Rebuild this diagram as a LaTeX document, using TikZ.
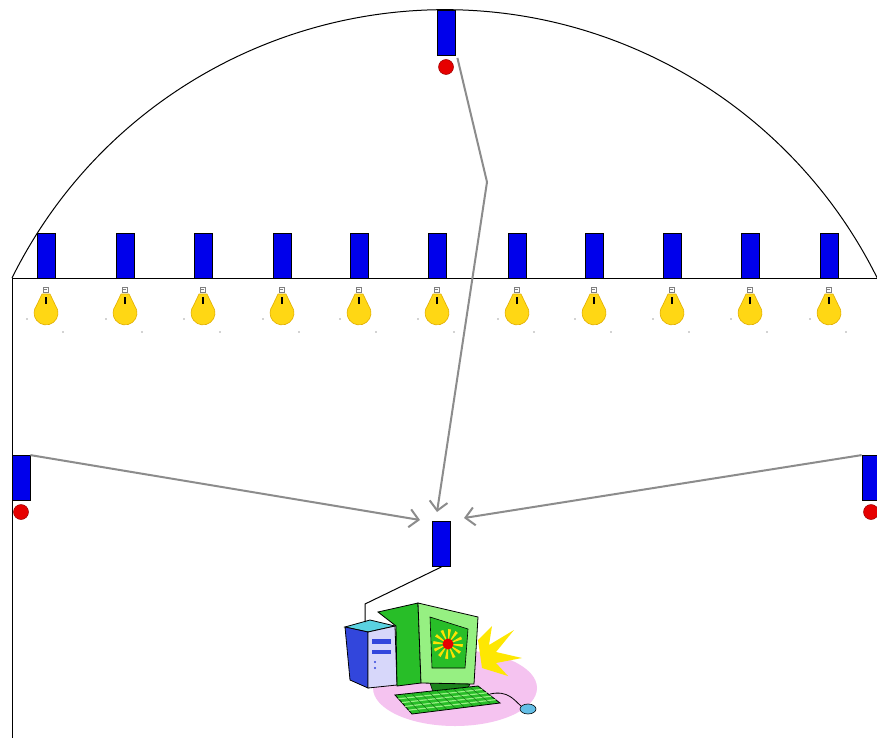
\documentclass[tikz,border=0pt]{standalone}
\usetikzlibrary{arrows.meta,calc}
\definecolor{sensorblue}{RGB}{0,0,235}
\definecolor{dotred}{RGB}{230,0,0}
\definecolor{bulbyellow}{RGB}{255,215,20}
\definecolor{bulbedge}{RGB}{225,175,0}
\definecolor{wiregrey}{RGB}{140,140,140}
\definecolor{pcgreen}{RGB}{40,190,40}
\definecolor{pclight}{RGB}{150,240,130}
\definecolor{pcpink}{RGB}{245,195,240}
\definecolor{towerblue}{RGB}{50,70,220}
\definecolor{towerfront}{RGB}{215,215,250}
\definecolor{towertop}{RGB}{90,210,225}
\definecolor{mouseblue}{RGB}{100,190,230}
\tikzset{
  sensor/.style={rectangle, fill=sensorblue, draw=black, line width=0.8pt,
    minimum width=18pt, minimum height=45pt, inner sep=0pt},
  reddot/.style={circle, fill=dotred, draw=red!60!black, line width=0.5pt,
    minimum size=15pt, inner sep=0pt},
  wall/.style={draw=black, line width=1pt},
  signal/.style={draw=wiregrey, line width=2pt,
    -{Straight Barb[length=9pt,width=18pt,line width=2pt]}},
  bulb/.pic={
    \draw[gray, line width=0.6pt] (-2.5,-7) rectangle (2.5,-2);
    \draw[gray, line width=0.4pt] (-2.5,-4.5) -- (1,-4.5);
    \fill[bulbyellow, draw=bulbedge, line width=0.6pt]
      (-4,0) -- (4,0) -- (9.5,11.5) arc[start angle=-38, end angle=218, radius=12] -- cycle;
    \draw[black, line width=1.6pt] (0,3) -- (0,10);
    \fill[gray!70] (-19,25) circle (0.8) (17,38) circle (0.8);
  }
}
\begin{document}
\begin{tikzpicture}[x=1pt, y=-1pt]
\useasboundingbox (0,0) rectangle (877,738);
\fill[white] (0,0) rectangle (877,738);

% room outline: vaulted ceiling (circular arc), ceiling line and left wall
\draw[wall] (12,278) arc[start angle=206.4, end angle=333.6, radius=483];
\draw[wall] (12,278) -- (877,278);
\draw[wall] (12,278) -- (12,738);

% ceiling lamps with their sensors
\foreach \i/\x in {1/46,2/125,3/203,4/282,5/359,6/437,7/517,8/594,9/672,10/750,11/829}{
  \node[sensor] (b\i) at (\x,256) {};
  \pic at (\x,294) {bulb};
}

% detectors
\node[sensor] (top) at (446,33) {};
\node[reddot] (topdot) at (446,67) {};
\node[sensor] (left) at (21,478) {};
\node[reddot] (leftdot) at (21,512) {};
\node[sensor] (right) at (871,478) {};
\node[reddot] (rightdot) at (871,512) {};

% receiver
\node[sensor] (rx) at (441.5,544) {};

% signal paths
\coordinate (bend) at (487,182);
\coordinate (inT) at (437,512);
\coordinate (inL) at (420,520);
\coordinate (inR) at (464,518);
\draw[signal] ($(top.south east)+(2,2)$) -- (bend) -- (inT);
\draw[signal] (left.north east) -- (inL);
\draw[signal] (right.north west) -- (inR);

% computer
\fill[pcpink] (455,688) ellipse [x radius=82, y radius=38];
\fill[yellow!90!orange] (478,640) -- (492,626) -- (489,645) -- (514,630) -- (496,652)
  -- (522,658) -- (496,663) -- (508,676) -- (482,668) -- cycle;

% tower
\filldraw[fill=towertop, draw=black, line width=0.8pt]
  (345,627) -- (370,620) -- (395,626) -- (368,632) -- cycle;
\filldraw[fill=towerblue, draw=black, line width=0.8pt]
  (345,627) -- (368,632) -- (368,688) -- (350,680) -- cycle;
\filldraw[fill=towerfront, draw=black, line width=0.8pt]
  (368,632) -- (395,626) -- (397,685) -- (368,688) -- cycle;
\fill[towerblue] (372,639) rectangle (391,644);
\fill[towerblue] (372,650) rectangle (391,654);
\fill[towerblue] (375,662) circle (1.2) (375,668) circle (1.2);

% monitor
\filldraw[fill=pcgreen, draw=black, line width=0.8pt]
  (378,612) -- (418,603) -- (421,683) -- (397,686) -- (396,626) -- cycle;
\filldraw[fill=pcgreen!70!black, draw=black, line width=0.6pt]
  (430,683) -- (470,684) -- (466,692) -- (433,692) -- cycle;
\filldraw[fill=pclight, draw=black, line width=0.8pt]
  (418,603) -- (478,617) -- (474,684) -- (421,683) -- cycle;
\filldraw[fill=pcgreen, draw=black, line width=0.6pt]
  (430,617) -- (468,629) -- (465,668) -- (432,668) -- cycle;
\foreach \a in {0,30,...,330}
  \fill[yellow!85!orange] (448,644) -- ++(\a:15) -- ++(\a+100:3) -- cycle;
\fill[dotred] (448,644) circle (5.5);

% keyboard, cable and mouse
\filldraw[fill=pcgreen, draw=black, line width=0.8pt]
  (395,695) -- (478,686) -- (500,703) -- (412,714) -- cycle;
\foreach \t in {0.2,0.4,0.6,0.8}
  \draw[pclight, line width=1.2pt] ($(395,695)!\t!(412,714)$) -- ($(478,686)!\t!(500,703)$);
\foreach \t in {0.1,0.2,...,0.9}
  \draw[pcgreen!60!black, line width=0.5pt] ($(395,695)!\t!(478,686)$) -- ($(412,714)!\t!(500,703)$);
\draw[black, line width=0.8pt] (490,694) .. controls (508,690) and (514,700) .. (521,706);
\filldraw[fill=mouseblue, draw=black, line width=0.6pt]
  (528,709) ellipse [x radius=8, y radius=5];

% receiver to computer link
\coordinate (elbow) at (365,604);
\coordinate (pcin) at (365,622);
\draw[black, line width=1pt] (rx.south) -- (elbow) -- (pcin);
\end{tikzpicture}
\end{document}
